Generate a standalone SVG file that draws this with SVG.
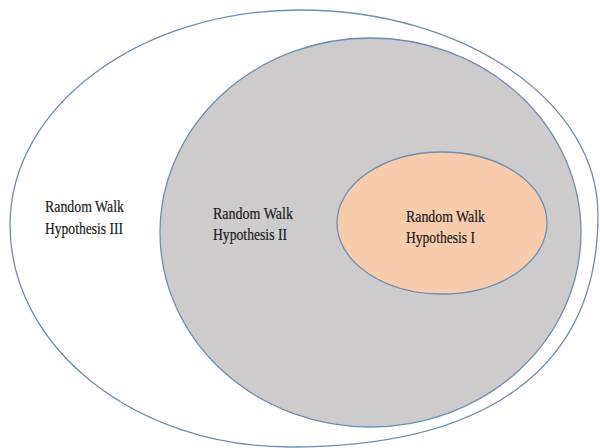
<svg xmlns="http://www.w3.org/2000/svg" width="600" height="448" viewBox="0 0 600 448">
<style>
.shape{stroke:#6d8db3;stroke-width:1.3}
.lbl{font-family:"Liberation Serif","Times New Roman",serif;font-size:17px;fill:#1a1a1a;stroke:#1a1a1a;stroke-width:0.2}
</style>
<rect width="600" height="448" fill="#ffffff"/>
<g id="hyp3">
<path class="shape" fill="#ffffff" d="M300,10 C464.6,10 598,101.8 598,215 C598,365.8 490.2,447 290,447 C135.4,447 10,347.6 10,225 C10,106.3 139.8,10 300,10 Z"/>
<text class="lbl" x="45" y="212" textLength="79" lengthAdjust="spacingAndGlyphs">Random Walk</text>
<text class="lbl" x="45" y="234" textLength="78" lengthAdjust="spacingAndGlyphs">Hypothesis III</text>
</g>
<g id="hyp2">
<ellipse class="shape" fill="#cdcbcc" cx="370.5" cy="232.5" rx="210.5" ry="194.5"/>
<text class="lbl" x="213" y="219" textLength="80" lengthAdjust="spacingAndGlyphs">Random Walk</text>
<text class="lbl" x="213" y="240" textLength="74" lengthAdjust="spacingAndGlyphs">Hypothesis II</text>
</g>
<g id="hyp1">
<ellipse class="shape" fill="#f8cbad" cx="442" cy="223" rx="105" ry="71"/>
<text class="lbl" x="406" y="222" textLength="79" lengthAdjust="spacingAndGlyphs">Random Walk</text>
<text class="lbl" x="406" y="243" textLength="69" lengthAdjust="spacingAndGlyphs">Hypothesis I</text>
</g>
<g id="connectors"/>
</svg>
